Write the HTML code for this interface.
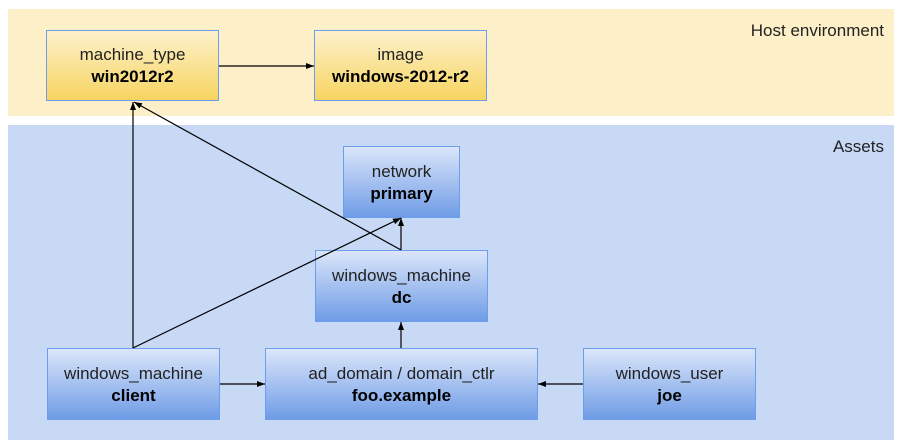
<!DOCTYPE html>
<html><head><meta charset="utf-8"><style>
body{margin:0;width:902px;height:448px;background:#fff;position:relative;font-family:"Liberation Sans",sans-serif;overflow:hidden}
.band{position:absolute}
.box{position:absolute;box-sizing:border-box;border:1px solid #6d9eeb;text-align:center;font-size:17px;color:#222;display:flex;flex-direction:column;justify-content:center;line-height:22px;padding-top:1px}
.y{background:linear-gradient(#fdf1cc,#f7d460)}
.b{background:linear-gradient(#dbe6fa,#6f9ce6)}
.box b{color:#000}
.lbl{position:absolute;font-size:17px;color:#222}
svg{position:absolute;left:0;top:0}
</style></head><body>
<div class="band" style="left:8px;top:9px;width:886px;height:107px;background:#fdefc8"></div>
<div class="band" style="left:8px;top:125px;width:886px;height:315px;background:#c8d9f6"></div>
<div class="lbl" style="right:18px;top:21px">Host environment</div>
<div class="lbl" style="right:18px;top:137px">Assets</div>
<div class="box y" style="left:46px;top:30px;width:173px;height:71px"><span>machine_type</span><b>win2012r2</b></div>
<div class="box y" style="left:314px;top:30px;width:173px;height:71px"><span>image</span><b>windows-2012-r2</b></div>
<div class="box b" style="left:343px;top:146px;width:117px;height:72px"><span>network</span><b>primary</b></div>
<div class="box b" style="left:315px;top:250px;width:173px;height:72px"><span>windows_machine</span><b>dc</b></div>
<div class="box b" style="left:47px;top:348px;width:173px;height:72px"><span>windows_machine</span><b>client</b></div>
<div class="box b" style="left:265px;top:348px;width:273px;height:72px"><span>ad_domain / domain_ctlr</span><b>foo.example</b></div>
<div class="box b" style="left:583px;top:348px;width:173px;height:72px"><span>windows_user</span><b>joe</b></div>
<svg width="902" height="448"><defs><marker id="a" markerWidth="8" markerHeight="6" refX="8" refY="3" orient="auto" markerUnits="userSpaceOnUse"><path d="M0,0L8,3L0,6z" fill="#000"/></marker></defs>
<g stroke="#000" stroke-width="1.2" fill="none" marker-end="url(#a)">
<line x1="219" y1="66" x2="314" y2="66"/>
<line x1="133" y1="348" x2="133" y2="102"/>
<line x1="133" y1="348" x2="401" y2="218"/>
<line x1="401" y1="250" x2="134" y2="102"/>
<line x1="401" y1="250" x2="401" y2="218"/>
<line x1="401" y1="348" x2="401" y2="322"/>
<line x1="220" y1="384" x2="265" y2="384"/>
<line x1="583" y1="384" x2="538" y2="384"/>
</g></svg>
</body></html>
